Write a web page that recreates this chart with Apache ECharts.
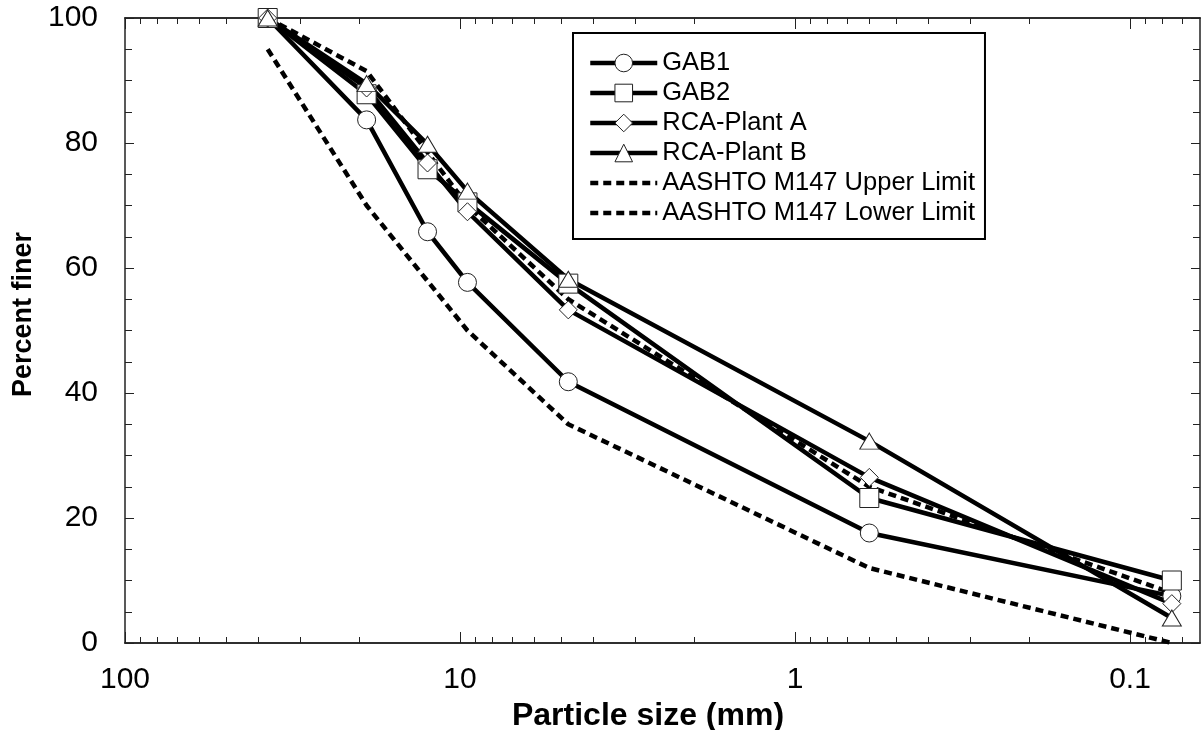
<!DOCTYPE html>
<html>
<head>
<meta charset="utf-8">
<title>Particle size distribution</title>
<script src="https://cdn.jsdelivr.net/npm/echarts@6/dist/echarts.min.js"></script>
<style>
  html, body { margin: 0; padding: 0; background: #fff; }
  #chart { width: 1202px; height: 730px; }
</style>
</head>
<body>
<div id="chart"></div>
<script>
// sieve sizes (mm)
const sieveSizes = [37.5, 19, 12.5, 9.5, 4.75, 0.6, 0.075];
const limitSizes = [37.5, 19, 9.5, 4.75, 0.6, 0.075];

// percent finer
const gab1 = [100, 83.7, 65.8, 57.7, 41.8, 17.6, 7.5];
const gab2 = [100, 87.8, 75.8, 70.5, 57.5, 23.2, 10];
const rcaPlantA = [100, 88.8, 76.8, 69, 53.3, 26.5, 6.3];
const rcaPlantB = [100, 89.5, 79.8, 72.3, 58.2, 32.3, 4];
const upperLimit = [100, 91.5, 70, 55, 25, 8];
const lowerLimit = [95, 70, 50, 35, 12, 0];

const seriesNames = ['GAB1', 'GAB2', 'RCA-Plant A', 'RCA-Plant B',
  'AASHTO M147 Upper Limit', 'AASHTO M147 Lower Limit'];

// tick labels / tick positions on the log axis
const xMajorTicks = [100, 10, 1, 0.1];
const xMinorTicks = [90, 80, 70, 60, 50, 40, 30, 20,
  9, 8, 7, 6, 5, 4, 3, 2,
  0.9, 0.8, 0.7, 0.6, 0.5, 0.4, 0.3, 0.2,
  0.09, 0.08, 0.07];

const FONT = "'Liberation Sans', Arial, sans-serif";
const AXIS_COLOR = '#222';
const LINE_W = 4.5;

const chart = echarts.init(document.getElementById('chart'), null, { renderer: 'canvas' });

const logAxis = (position, tickValues, tickLen, extra) => Object.assign({
  type: 'log',
  position,
  min: 0.0618,
  max: 100,
  inverse: true,
  axisLine: { show: true, onZero: false, lineStyle: { color: AXIS_COLOR, width: 1.5 } },
  axisTick: {
    show: true, inside: true, length: tickLen, customValues: tickValues,
    lineStyle: { color: AXIS_COLOR, width: 1 }
  },
  axisLabel: { show: false },
  splitLine: { show: false }
}, extra || {});

const valueAxis = (position, showLabels) => ({
  type: 'value',
  position,
  min: 0,
  max: 100,
  interval: 20,
  name: showLabels ? 'Percent finer' : '',
  nameLocation: 'middle',
  nameGap: 88,
  nameTextStyle: {
    fontFamily: FONT, fontSize: 27, fontWeight: 'bold', color: '#000',
    padding: [0, 0, 0, 32]
  },
  axisLine: { show: true, onZero: false, lineStyle: { color: AXIS_COLOR, width: 1.5 } },
  axisTick: { show: true, inside: true, length: 9, lineStyle: { color: AXIS_COLOR, width: 1 } },
  minorTick: { show: true, splitNumber: 4, length: 7, lineStyle: { color: AXIS_COLOR, width: 1 } },
  axisLabel: {
    show: showLabels, margin: 27, fontFamily: FONT, fontSize: 30, color: '#000'
  },
  splitLine: { show: false },
  minorSplitLine: { show: false }
});

const markerStyle = { color: '#fff', borderColor: '#222', borderWidth: 1 };

const solidSeries = (name, values, symbol, size) => ({
  name,
  type: 'line',
  xAxisIndex: 0,
  yAxisIndex: 0,
  data: sieveSizes.map((s, i) => [s, values[i]]),
  symbol,
  symbolSize: size,
  showSymbol: true,
  clip: false,
  lineStyle: { color: '#000', width: LINE_W },
  itemStyle: markerStyle,
  emphasis: { disabled: true }
});

const limitSeries = (name, values) => ({
  name,
  type: 'line',
  xAxisIndex: 0,
  yAxisIndex: 0,
  data: limitSizes.map((s, i) => [s, values[i]]),
  symbol: 'none',
  clip: false,
  lineStyle: { color: '#000', width: LINE_W, type: [8, 5] },
  itemStyle: { color: '#000' },
  emphasis: { disabled: true }
});

// legend entries: the dashed limits get no marker in the key
const hiddenMarker = { color: 'rgba(0,0,0,0)', borderColor: 'rgba(0,0,0,0)', borderWidth: 0 };
const legendData = seriesNames.map((name, i) =>
  i < 4 ? { name } : { name, itemStyle: hiddenMarker });

chart.setOption({
  animation: false,
  backgroundColor: '#fff',
  textStyle: { fontFamily: FONT },
  grid: {
    left: 125, right: 2, top: 18, bottom: 87,
    containLabel: false, outerBoundsMode: 'none'
  },
  legend: {
    orient: 'vertical',
    left: 573,
    top: 33,
    padding: [17, 10, 13, 15],
    itemWidth: 67,
    itemHeight: 22,
    itemGap: 4,
    borderColor: '#000',
    borderWidth: 2,
    backgroundColor: '#fff',
    lineStyle: { width: LINE_W },
    itemStyle: { borderWidth: 1, borderColor: '#222' },
    textStyle: { fontFamily: FONT, fontSize: 25.5, color: '#000' },
    data: legendData
  },
  xAxis: [
    logAxis('bottom', xMajorTicks, 11, {
      name: 'Particle size (mm)',
      nameLocation: 'middle',
      nameGap: 50,
      nameTextStyle: {
        fontFamily: FONT, fontSize: 32, fontWeight: 'bold', color: '#000',
        padding: [0, 29, 0, 0]
      },
      axisLabel: {
        show: true, customValues: xMajorTicks, margin: 22,
        fontFamily: FONT, fontSize: 30, color: '#000',
        formatter: v => String(v)
      }
    }),
    logAxis('bottom', xMinorTicks, 6),
    logAxis('top', xMajorTicks, 11),
    logAxis('top', xMinorTicks, 6)
  ],
  yAxis: [
    valueAxis('left', true),
    valueAxis('right', false)
  ],
  series: [
    solidSeries(seriesNames[0], gab1, 'circle', 18),
    solidSeries(seriesNames[1], gab2, 'rect', 19),
    solidSeries(seriesNames[2], rcaPlantA, 'diamond', 18),
    solidSeries(seriesNames[3], rcaPlantB, 'triangle', [19, 16]),
    limitSeries(seriesNames[4], upperLimit),
    limitSeries(seriesNames[5], lowerLimit)
  ]
});

window.addEventListener('resize', () => chart.resize());
</script>
</body>
</html>
